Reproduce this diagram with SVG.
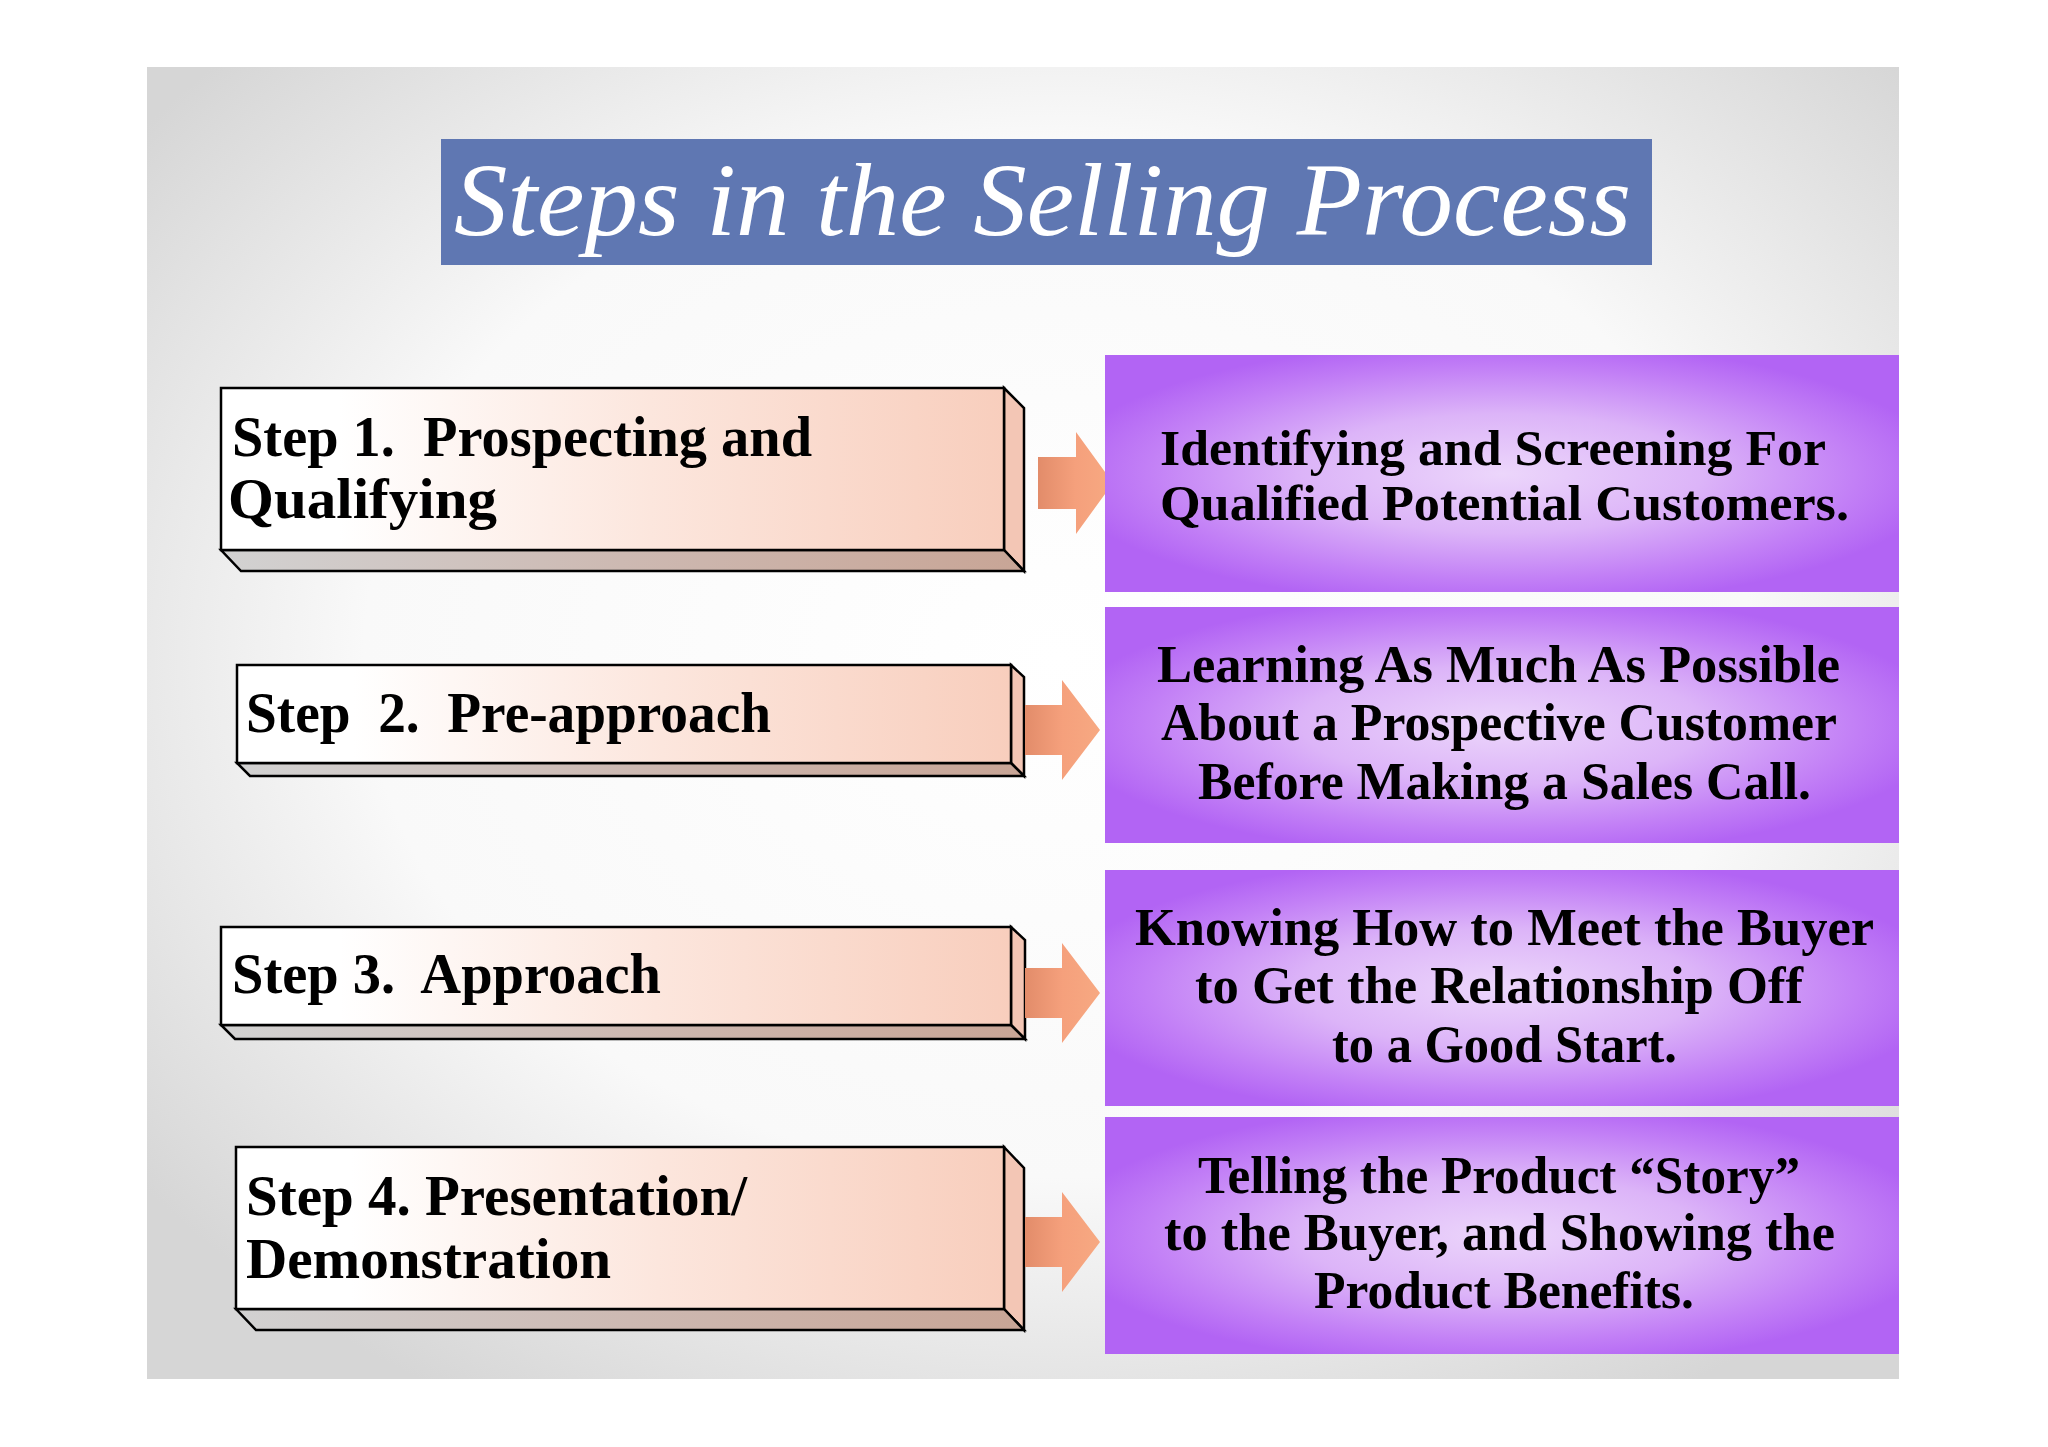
<svg xmlns="http://www.w3.org/2000/svg" width="2048" height="1447" viewBox="0 0 2048 1447">
<defs>
<radialGradient id="bg" cx="0.52" cy="0.45" r="0.66">
<stop offset="0" stop-color="#ffffff"/>
<stop offset="0.6" stop-color="#f9f9f9"/>
<stop offset="1" stop-color="#d6d6d6"/>
</radialGradient>
<linearGradient id="front" x1="0" y1="0" x2="1" y2="0">
<stop offset="0" stop-color="#ffffff"/>
<stop offset="0.15" stop-color="#ffffff"/>
<stop offset="0.55" stop-color="#fce6dd"/>
<stop offset="1" stop-color="#f8cebd"/>
</linearGradient>
<linearGradient id="bottom" x1="0" y1="0" x2="1" y2="0">
<stop offset="0" stop-color="#d2d2d2"/>
<stop offset="0.5" stop-color="#cdb9b2"/>
<stop offset="1" stop-color="#c8a596"/>
</linearGradient>
<linearGradient id="arrow" x1="0" y1="0" x2="1" y2="0">
<stop offset="0" stop-color="#e28c6a"/>
<stop offset="0.5" stop-color="#f5a07c"/>
<stop offset="1" stop-color="#f7a982"/>
</linearGradient>
<radialGradient id="purple" cx="0.5" cy="0.5" r="0.56">
<stop offset="0" stop-color="#ecd6fb"/>
<stop offset="0.45" stop-color="#dcb4f8"/>
<stop offset="0.8" stop-color="#c27ff6"/>
<stop offset="1" stop-color="#b264f4"/>
</radialGradient>
<style>
.front{fill:url(#front);stroke:#000;stroke-width:2.5;stroke-linejoin:miter}
.side{fill:#f3c6b5;stroke:#000;stroke-width:2.5;stroke-linejoin:miter}
.bot{fill:url(#bottom);stroke:#000;stroke-width:2.5;stroke-linejoin:miter}
.lbl{font-family:"Liberation Serif","Times New Roman",serif;font-weight:bold;font-size:58px;fill:#000}
.desc{font-family:"Liberation Serif","Times New Roman",serif;font-weight:bold;font-size:53px;fill:#000}
.pbox{fill:url(#purple)}
.arr{fill:url(#arrow)}
</style>
</defs>
<rect x="0" y="0" width="2048" height="1447" fill="#ffffff"/>
<rect x="147" y="67" width="1752" height="1312" fill="url(#bg)"/>

<g id="title">
<rect x="441" y="139" width="1211" height="126" fill="#5f77b2"/>
<text x="454" y="235" font-family="Liberation Serif, Times New Roman, serif" font-style="italic" font-size="104" fill="#ffffff" textLength="1177" lengthAdjust="spacingAndGlyphs">Steps in the Selling Process</text>
</g>

<g id="step1">
<polygon class="side" points="1004,388 1024,408 1024,571 1004,550"/>
<polygon class="bot" points="221,550 1004,550 1024,571 241,571"/>
<rect class="front" x="221" y="388" width="783" height="162"/>
<text class="lbl" xml:space="preserve" x="232" y="456" textLength="580" lengthAdjust="spacingAndGlyphs">Step 1.  Prospecting and</text>
<text class="lbl" x="228" y="518" textLength="269" lengthAdjust="spacingAndGlyphs">Qualifying</text>
</g>

<g id="step2">
<polygon class="side" points="1011,665 1024,677 1024,776 1011,763"/>
<polygon class="bot" points="237,763 1011,763 1024,776 250,776"/>
<rect class="front" x="237" y="665" width="774" height="98"/>
<text class="lbl" xml:space="preserve" x="246" y="732" textLength="525" lengthAdjust="spacingAndGlyphs">Step  2.  Pre-approach</text>
</g>

<g id="step3">
<polygon class="side" points="1011,927 1025,940 1025,1039 1011,1025"/>
<polygon class="bot" points="221,1025 1011,1025 1025,1039 235,1039"/>
<rect class="front" x="221" y="927" width="790" height="98"/>
<text class="lbl" xml:space="preserve" x="232" y="993" textLength="429" lengthAdjust="spacingAndGlyphs">Step 3.  Approach</text>
</g>

<g id="step4">
<polygon class="side" points="1004,1147 1024,1168 1024,1330 1004,1309"/>
<polygon class="bot" points="236,1309 1004,1309 1024,1330 256,1330"/>
<rect class="front" x="236" y="1147" width="768" height="162"/>
<text class="lbl" xml:space="preserve" x="246" y="1215" textLength="501" lengthAdjust="spacingAndGlyphs">Step 4. Presentation/</text>
<text class="lbl" x="246" y="1278" textLength="365" lengthAdjust="spacingAndGlyphs">Demonstration</text>
</g>

<g id="connectors">
<polygon class="arr" points="1038,457 1076,457 1076,432 1113,483 1076,534 1076,509 1038,509"/>
<polygon class="arr" points="1025,705 1062,705 1062,680 1100,730 1062,780 1062,755 1025,755"/>
<polygon class="arr" points="1025,968 1062,968 1062,943 1100,993 1062,1043 1062,1018 1025,1018"/>
<polygon class="arr" points="1025,1217 1062,1217 1062,1192 1100,1242 1062,1292 1062,1267 1025,1267"/>
</g>

<g id="desc1">
<rect class="pbox" x="1105" y="355" width="794" height="237"/>
<text class="desc" x="1160" y="465" font-size="50" style="font-size:50px" textLength="666" lengthAdjust="spacingAndGlyphs">Identifying and Screening For</text>
<text class="desc" x="1160" y="520" style="font-size:50px" textLength="689" lengthAdjust="spacingAndGlyphs">Qualified Potential Customers.</text>
</g>

<g id="desc2">
<rect class="pbox" x="1105" y="607" width="794" height="236"/>
<text class="desc" x="1157" y="682" textLength="683" lengthAdjust="spacingAndGlyphs">Learning As Much As Possible</text>
<text class="desc" x="1161" y="740" textLength="676" lengthAdjust="spacingAndGlyphs">About a Prospective Customer</text>
<text class="desc" x="1198" y="799" textLength="613" lengthAdjust="spacingAndGlyphs">Before Making a Sales Call.</text>
</g>

<g id="desc3">
<rect class="pbox" x="1105" y="870" width="794" height="236"/>
<text class="desc" x="1135" y="945" textLength="739" lengthAdjust="spacingAndGlyphs">Knowing How to Meet the Buyer</text>
<text class="desc" x="1195" y="1003" textLength="608" lengthAdjust="spacingAndGlyphs">to Get the Relationship Off</text>
<text class="desc" x="1332" y="1062" textLength="345" lengthAdjust="spacingAndGlyphs">to a Good Start.</text>
</g>

<g id="desc4">
<rect class="pbox" x="1105" y="1117" width="794" height="237"/>
<text class="desc" x="1198" y="1193" textLength="602" lengthAdjust="spacingAndGlyphs">Telling the Product “Story”</text>
<text class="desc" x="1164" y="1250" textLength="671" lengthAdjust="spacingAndGlyphs">to the Buyer, and Showing the</text>
<text class="desc" x="1314" y="1308" textLength="380" lengthAdjust="spacingAndGlyphs">Product Benefits.</text>
</g>
</svg>
